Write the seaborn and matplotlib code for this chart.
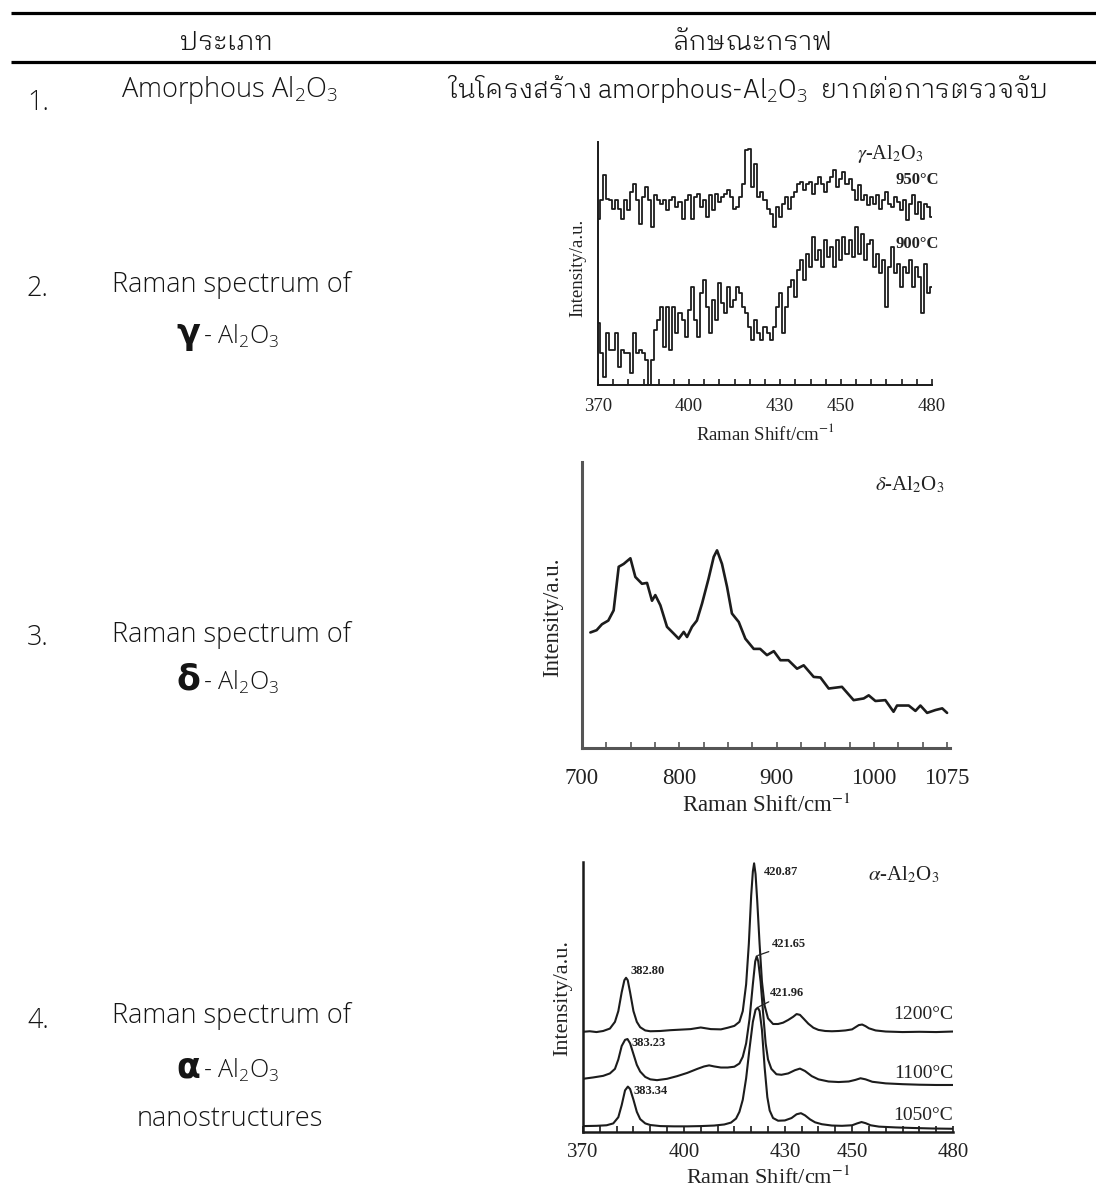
import os
import numpy as np
import matplotlib
matplotlib.use("Agg")
import matplotlib.pyplot as plt
import seaborn as sns
from matplotlib import font_manager
from matplotlib.font_manager import FontProperties
from matplotlib.ft2font import FT2Font

# ------------------------------------------------------------------
# Table text
# ------------------------------------------------------------------
HEADERS = ["ประเภท", "ลักษณะกราฟ"]
ROW_NUMBERS = ["1.", "2.", "3.", "4."]
AMORPHOUS_NAME = "Amorphous Al$_2$O$_3$"
AMORPHOUS_NOTE = "ในโครงสร้าง amorphous-Al$_2$O$_3$  ยากต่อการตรวจจับ"
SPECTRUM_TITLE = "Raman spectrum of"
PHASE_GREEK = ["γ", "δ", "α"]
PHASE_REST = "- Al$_2$O$_3$"
ALPHA_NOTE = "nanostructures"

# ------------------------------------------------------------------
# gamma-Al2O3 spectra (Raman shift in cm-1, intensity in a.u.)
# ------------------------------------------------------------------
GAMMA_SHIFT = list(range(370, 481))
GAMMA_950 = [
    500, 555, 630, 560, 555, 530, 555, 530, 500, 555,
    525, 580, 605, 555, 485, 565, 595, 555, 475, 570,
    555, 545, 555, 525, 555, 565, 535, 550, 500, 555,
    570, 500, 565, 575, 535, 555, 505, 570, 525, 575,
    550, 565, 575, 585, 565, 530, 535, 565, 605, 705,
    710, 595, 665, 565, 580, 555, 530, 515, 475, 535,
    505, 545, 565, 530, 565, 580, 605, 610, 585, 605,
    610, 575, 605, 625, 605, 580, 610, 625, 645, 595,
    620, 640, 605, 620, 585, 555, 600, 555, 570, 540,
    565, 545, 570, 530, 555, 580, 545, 535, 565, 550,
    525, 555, 495, 545, 570, 515, 550, 500, 545, 535,
    505,
]
GAMMA_900 = [
    185, 95, 25, 155, 105, 105, 155, 55, 105, 95,
    95, 35, 155, 95, 105, 95, 75, 0, 75, 165,
    195, 235, 115, 235, 105, 235, 155, 215, 195, 145,
    225, 295, 195, 145, 275, 315, 235, 155, 255, 195,
    305, 245, 215, 295, 235, 255, 295, 275, 235, 215,
    175, 135, 195, 155, 135, 175, 155, 135, 175, 235,
    275, 155, 235, 295, 315, 265, 345, 375, 315, 395,
    355, 445, 375, 405, 355, 435, 385, 415, 355, 435,
    375, 445, 395, 435, 385, 475, 395, 455, 375, 425,
    435, 355, 395, 335, 375, 235, 355, 415, 335, 365,
    295, 355, 335, 375, 295, 355, 325, 215, 365, 275,
    295,
]
GAMMA_TICKS = list(range(370, 481, 5))
GAMMA_TICK_LABELS = [370, 400, 430, 450, 480]

# ------------------------------------------------------------------
# delta-Al2O3 spectrum
# ------------------------------------------------------------------
DELTA_SHIFT = [
    708.6, 715, 720.5, 727, 732.5, 737.7, 742.8, 749.7, 754.8, 761.6,
    766.8, 771.9, 775.3, 780.5, 787.3, 794.2, 799.3, 804.5, 807.9, 813,
    818, 823.3, 830, 835.3, 838.7, 843.8, 849, 854, 861, 867.8,
    876.4, 883, 890, 897, 903.8, 912, 920.9, 927.7, 938, 944.9,
    953.4, 967, 979, 989.4, 994.5, 1001.4, 1011.6, 1020, 1023.6, 1035.6,
    1042.5, 1047.6, 1054.5, 1063, 1070, 1075,
]
DELTA_INTENSITY = [
    39.8, 40.6, 42.7, 44.0, 47.6, 63.0, 64.0, 66.0, 59.4, 57.0,
    57.3, 51.0, 53.0, 49.4, 41.8, 39.4, 37.6, 40.0, 38.2, 41.8,
    44.0, 50.0, 58.8, 66.5, 68.8, 64.0, 55.9, 46.5, 43.5, 37.6,
    34.0, 34.0, 31.8, 33.2, 30.0, 30.0, 27.0, 28.2, 24.1, 23.9,
    20.0, 20.6, 15.9, 16.5, 17.6, 15.6, 15.9, 11.8, 14.0, 14.0,
    12.1, 14.0, 11.4, 12.4, 13.0, 11.4,
]
DELTA_TICKS = list(range(700, 1076, 25))
DELTA_TICK_LABELS = [700, 800, 900, 1000, 1075]

# ------------------------------------------------------------------
# alpha-Al2O3 spectra at three calcination temperatures
# ------------------------------------------------------------------
ALPHA_1200_SHIFT = [
    370, 372, 374, 376, 378, 379.5, 380.5, 381.5, 382.3, 382.80,
    383.3, 384, 385, 386, 387, 388.5, 390, 393, 396, 399,
    402, 405, 408, 411, 413, 415, 416.5, 417.5, 418.5, 419.3,
    420, 420.5, 420.87, 421.3, 421.8, 422.5, 423.2, 424, 425, 426.5,
    428, 429.5, 431, 432.5, 433.5, 434.5, 435.5, 437, 438.5, 440,
    442, 444, 446, 448, 450, 451, 452, 453, 454, 455,
    457, 460, 465, 470, 475, 480,
]
ALPHA_1200 = [
    37.3, 37.5, 37.2, 37.6, 38.5, 41.0, 45.0, 52.0, 56.5, 57.4,
    56.5, 52.0, 45.0, 41.0, 39.0, 37.8, 37.5, 37.6, 37.9, 38.1,
    38.3, 38.9, 38.3, 38.2, 38.8, 39.5, 41.0, 45.0, 55.0, 70.0,
    88.0, 97.0, 100.0, 96.0, 86.0, 70.0, 56.0, 47.0, 42.3, 40.2,
    40.2, 40.7, 41.7, 42.9, 43.9, 43.6, 42.3, 40.3, 38.8, 38.0,
    37.6, 37.5, 37.6, 37.8, 38.2, 39.0, 39.8, 40.0, 39.4, 38.6,
    37.8, 37.4, 37.2, 37.3, 37.2, 37.4,
]
ALPHA_1100_SHIFT = [
    370, 373, 376, 378, 379.5, 380.5, 381.5, 382.5, 383.23, 384,
    385, 386, 387, 388.5, 390, 392, 395, 398, 401, 404,
    406, 407.5, 409, 411, 413, 415, 416.5, 417.5, 418.5, 419.5,
    420.5, 421.2, 421.65, 422.1, 422.8, 423.5, 424.3, 425, 426, 427.5,
    429, 431, 433, 434.5, 436, 438, 440, 443, 446, 449,
    451, 452.5, 454, 456, 460, 465, 470, 475, 480,
]
ALPHA_1100 = [
    19.8, 20.3, 20.9, 21.8, 23.5, 27.0, 32.0, 34.3, 34.6, 33.0,
    29.0, 25.0, 22.5, 20.5, 19.6, 19.3, 19.8, 20.8, 22.0, 23.5,
    24.4, 24.8, 24.4, 24.0, 24.0, 24.3, 25.5, 28.0, 33.0, 42.0,
    55.0, 63.5, 65.4, 63.5, 56.0, 45.0, 33.0, 27.0, 23.5, 21.5,
    21.3, 21.8, 23.0, 23.6, 22.7, 20.8, 19.6, 18.8, 18.6, 18.8,
    19.4, 20.0, 19.6, 18.7, 18.1, 17.8, 17.6, 17.5, 17.5,
]
ALPHA_1050_SHIFT = [
    370, 374, 377, 379, 380.5, 381.5, 382.5, 383.34, 384, 385,
    386, 387, 388.5, 390, 393, 397, 401, 405, 409, 412,
    414, 415.5, 416.5, 417.5, 418.5, 419.5, 420.5, 421.3, 421.96, 422.5,
    423.2, 424, 424.8, 425.5, 426.5, 428, 430, 432, 433.5, 434.8,
    436, 437.5, 439, 441, 444, 447, 450, 451.5, 452.8, 454,
    455.5, 458, 463, 468, 474, 480,
]
ALPHA_1050 = [
    2.2, 2.3, 2.5, 3.2, 5.5, 10.0, 15.5, 16.9, 16.0, 12.0,
    7.5, 4.8, 3.2, 2.6, 2.2, 2.1, 2.1, 2.2, 2.4, 2.8,
    3.5, 5.0, 7.5, 12.0, 20.0, 31.0, 41.0, 45.5, 46.3, 45.0,
    38.0, 24.0, 13.0, 8.0, 5.2, 4.2, 4.3, 5.2, 6.6, 7.0,
    6.2, 4.7, 3.6, 2.9, 2.4, 2.3, 2.5, 3.2, 3.7, 3.3,
    2.5, 2.0, 1.7, 1.5, 1.3, 1.2,
]
ALPHA_TICKS = list(range(370, 481, 5))
ALPHA_TICK_LABELS = [370, 400, 430, 450, 480]
# (peak position, peak height, label x, label y, leader line?)
ALPHA_PEAKS = [
    (420.87, 100.0, 423.7, 96.9, False),
    (421.65, 65.4, 426.2, 69.8, True),
    (421.96, 46.3, 425.7, 51.9, True),
    (382.80, 57.4, 384.0, 59.9, False),
    (383.23, 34.6, 384.4, 33.1, False),
    (383.34, 16.9, 384.9, 15.1, False),
]

# ------------------------------------------------------------------
# Fonts
# ------------------------------------------------------------------
sns.set_theme(style="ticks")


def thai_font_file():
    """Return the file of an upright, light/regular, looped Thai face if one is installed."""
    code = ord("ก")
    candidates = []
    for entry in font_manager.fontManager.ttflist:
        if entry.style != "normal":
            continue
        try:
            if code not in FT2Font(entry.fname).get_charmap():
                continue
        except Exception:
            continue
        candidates.append(entry)
    if not candidates:
        return None

    def rank(entry):
        base = os.path.basename(entry.fname).lower()
        looped = 0 if ("looped" in base or entry.name in ("Loma", "Garuda")) else 1
        narrow = 1 if ("condensed" in base or "ui" in base.replace("-", " ").split()) else 0
        if "-light." in base:
            weight = 0
        elif "-regular." in base:
            weight = 1
        else:
            weight = 2
        return (looped, narrow, weight, base)

    return sorted(candidates, key=rank)[0].fname


SANS = "Open Sans"
SERIF = "Liberation Serif"
THAI_FILE = thai_font_file()
plt.rcParams["font.family"] = [SANS, "Noto Sans", "DejaVu Sans"]
plt.rcParams["mathtext.fontset"] = "custom"
plt.rcParams["mathtext.rm"] = SANS + ":light"
plt.rcParams["mathtext.it"] = SANS + ":italic"
plt.rcParams["mathtext.bf"] = SANS + ":bold"

INK = "#151515"
LINE = "#1c1c1c"
W, H = 1096, 1196


def thai_props(size):
    if THAI_FILE:
        return dict(fontproperties=FontProperties(fname=THAI_FILE, size=size))
    return dict(fontsize=size, fontweight="light")


fig = plt.figure(figsize=(W / 100, H / 100), dpi=100)
fig.patch.set_facecolor("white")

# ------------------------------------------------------------------
# Table frame and text (pixel coordinates)
# ------------------------------------------------------------------
tab = fig.add_axes([0, 0, 1, 1])
tab.set_xlim(0, W)
tab.set_ylim(H, 0)
tab.axis("off")
tab.set_zorder(0)

for yy in (13, 62):
    tab.plot([11, W], [yy, yy], color="black", lw=2.3, solid_capstyle="butt")

tab.text(227, 43, HEADERS[0], ha="center", va="center", color=INK, **thai_props(19.5))
tab.text(752, 43, HEADERS[1], ha="center", va="center", color=INK, **thai_props(19.5))

BODY = 19.5
TXT = dict(color=INK, fontweight="light")
num_y = [103, 289, 638, 1021]
for label, yy in zip(ROW_NUMBERS, num_y):
    tab.text(27, yy, label, ha="left", va="center", fontsize=BODY, **TXT)

tab.text(230, 90, AMORPHOUS_NAME, ha="center", va="center", fontsize=BODY, **TXT)
tab.text(747, 89, AMORPHOUS_NOTE, ha="center", va="center", color=INK, **thai_props(19.2))

title_y = [285, 635, 1016]
phase_y = [336, 682, 1070]
for ty, py, greek in zip(title_y, phase_y, PHASE_GREEK):
    tab.text(231, ty, SPECTRUM_TITLE, ha="center", va="center", fontsize=BODY, **TXT)
    tab.text(200, py - 2, greek, ha="right", va="center", fontsize=25, fontweight="bold",
             family=["DejaVu Sans"], color=INK)
    tab.text(203, py, PHASE_REST, ha="left", va="center", fontsize=18, **TXT)
tab.text(230, 1119, ALPHA_NOTE, ha="center", va="center", fontsize=BODY, **TXT)

# ------------------------------------------------------------------
# Spectrum panels
# ------------------------------------------------------------------
SERIF_KW = dict(family=[SERIF, "DejaVu Serif"], math_fontfamily="stix", color="#222222")


def spectrum_panel(rect, xlim, ylim, ticks, tick_labels, tick_size, tick_pad, label_size,
                   xlabel_y, ylabel_xy, spine_color, spine_w):
    ax = fig.add_axes(rect)
    ax.set_zorder(2)
    ax.patch.set_alpha(0)
    ax.set_xlim(*xlim)
    ax.set_ylim(*ylim)
    sns.despine(ax=ax)
    for side in ("left", "bottom"):
        ax.spines[side].set_color(spine_color)
        ax.spines[side].set_linewidth(spine_w)
    ax.set_yticks([])
    ax.set_xticks(ticks)
    ax.set_xticklabels([str(t) if t in tick_labels else "" for t in ticks])
    ax.tick_params(axis="x", direction="in", length=4.5, width=1.2, color=spine_color,
                   pad=tick_pad, labelsize=tick_size, labelcolor="#222222")
    for lab in ax.get_xticklabels():
        lab.set_fontfamily(SERIF)
    ax.set_xlabel("Raman Shift/cm$^{-1}$", fontsize=label_size, va="center", **SERIF_KW)
    ax.xaxis.set_label_coords(0.5, xlabel_y)
    ax.set_ylabel("Intensity/a.u.", fontsize=label_size, va="center", **SERIF_KW)
    ax.yaxis.set_label_coords(*ylabel_xy)
    return ax


# gamma-Al2O3
ax_g = spectrum_panel([598 / W, 1 - 385 / H, 334 / W, 243 / H], (370, 480), (0, 730),
                      GAMMA_TICKS, GAMMA_TICK_LABELS, 13.5, 9, 13.5,
                      -0.20, (-0.06, 0.48), "#1a1a1a", 1.4)
for series in (GAMMA_950, GAMMA_900):
    sns.lineplot(x=GAMMA_SHIFT, y=series, ax=ax_g, color=LINE, lw=1.3,
                 drawstyle="steps-mid", estimator=None)
ax_g.text(455.3, 695, r"$\gamma$-Al$_2$O$_3$", ha="left", va="center", fontsize=14.5,
          **SERIF_KW)
ax_g.text(482.2, 615, "950°C", ha="right", va="center", fontsize=12, fontweight="bold",
          **SERIF_KW)
ax_g.text(482.2, 425, "900°C", ha="right", va="center", fontsize=12, fontweight="bold",
          **SERIF_KW)

# delta-Al2O3
ax_d = spectrum_panel([582 / W, 1 - 748 / H, 368 / W, 286 / H], (700, 1078), (-1, 100),
                      DELTA_TICKS, DELTA_TICK_LABELS, 16.5, 14.5, 16.5,
                      -0.20, (-0.079, 0.458), "#555555", 2.2)
sns.lineplot(x=DELTA_SHIFT, y=DELTA_INTENSITY, ax=ax_d, color=LINE, lw=1.9, estimator=None)
ax_d.text(1001, 91.8, r"$\delta$-Al$_2$O$_3$", ha="left", va="center", fontsize=15,
          **SERIF_KW)

# alpha-Al2O3
ax_a = spectrum_panel([583 / W, 1 - 1132 / H, 370 / W, 270 / H], (370, 480), (0, 100.5),
                      ALPHA_TICKS, ALPHA_TICK_LABELS, 15, 8, 16,
                      -0.17, (-0.054, 0.496), "#1a1a1a", 1.8)
for xs, ys in ((ALPHA_1200_SHIFT, ALPHA_1200), (ALPHA_1100_SHIFT, ALPHA_1100),
               (ALPHA_1050_SHIFT, ALPHA_1050)):
    sns.lineplot(x=xs, y=ys, ax=ax_a, color=LINE, lw=1.5, estimator=None)
for pos, height, lx, ly, leader in ALPHA_PEAKS:
    if leader:
        ax_a.annotate(f"{pos:.2f}", xy=(pos + 0.3, height + 0.3), xytext=(lx, ly),
                      ha="left", va="center", fontsize=9, fontweight="bold",
                      arrowprops=dict(arrowstyle="-", lw=0.9, color="#222222",
                                      shrinkA=0, shrinkB=0), **SERIF_KW)
    else:
        ax_a.text(lx, ly, f"{pos:.2f}", ha="left", va="center", fontsize=9,
                  fontweight="bold", **SERIF_KW)
ax_a.text(454.6, 95.7, r"$\alpha$-Al$_2$O$_3$", ha="left", va="center", fontsize=15,
          **SERIF_KW)
for temp, yy in (("1200°C", 43.8), ("1100°C", 21.6), ("1050°C", 6.2)):
    ax_a.text(480, yy, temp, ha="right", va="center", fontsize=14, **SERIF_KW)

fig.savefig("out.png", dpi=100)
